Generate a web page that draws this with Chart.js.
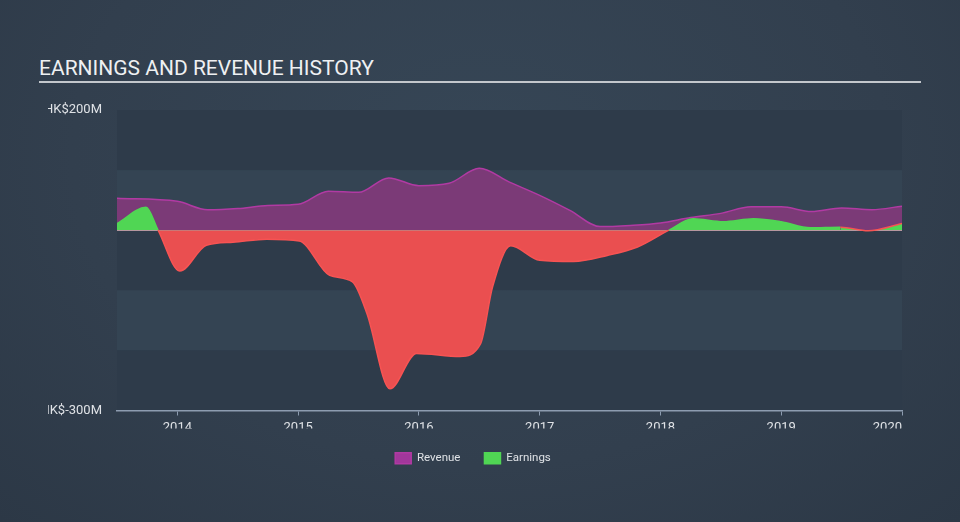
<!DOCTYPE html>
<html>
<head>
<meta charset="utf-8">
<script src="https://cdn.jsdelivr.net/npm/chart.js@4/dist/chart.umd.min.js"></script>
<style>
  html, body { margin: 0; padding: 0; }
  body {
    width: 960px; height: 522px; overflow: hidden; position: relative;
    background: radial-gradient(ellipse at 50% 30%, #364656 0%, #323f4e 60%, #2c3846 100%);
    font-family: Roboto, "Noto Sans", sans-serif;
  }
  .chart-title {
    position: absolute; left: 39px; top: 56px; width: 882px;
    margin: 0; padding: 0 0 1px 0;
    font-size: 21px; line-height: 24px; font-weight: 400; color: #eef0f2;
    border-bottom: 2px solid #c3c7cc;
  }
  .chart-wrap { position: absolute; left: 0; top: 0; width: 960px; height: 522px; }
</style>
</head>
<body>
<h1 class="chart-title">EARNINGS AND REVENUE HISTORY</h1>
<div class="chart-wrap"><canvas id="chart" width="960" height="522"></canvas></div>
<script>
// values in HK$ millions, x as decimal years
const revenueYears = [2013.5, 2014.0, 2014.25, 2014.5, 2014.75, 2015.0, 2015.25, 2015.5, 2015.75, 2016.0, 2016.25, 2016.5, 2016.75, 2017.0, 2017.25, 2017.5, 2017.75, 2018.0, 2018.25, 2018.5, 2018.75, 2019.0, 2019.25, 2019.5, 2019.75, 2020.0];
const revenueValues = [53, 48, 34, 36, 41, 43, 65, 63, 87, 74, 78, 103, 80, 58, 33, 6, 8, 12, 21, 28, 39, 39, 31, 37, 34, 40];

const earningsYears = [2013.5, 2013.74, 2013.84, 2014.02, 2014.24, 2014.46, 2014.74, 2015.01, 2015.26, 2015.45, 2015.57, 2015.76, 2015.98, 2016.34, 2016.51, 2016.61, 2016.76, 2017.0, 2017.28, 2017.56, 2017.81, 2018.07, 2018.27, 2018.52, 2018.77, 2019.0, 2019.24, 2019.49, 2019.72, 2020.0];
const earningsValues = [11, 38, 0, -68, -25, -20, -15, -18, -75, -86, -139, -264, -205, -210, -189, -94, -26, -50, -52, -42, -28, 0, 19, 14, 19, 14, 4, 5, -1, 11];

const yearTicks = [2014, 2015, 2016, 2017, 2018, 2019, 2020];
const valueTicks = [200, -300];
const bandEdges = [200, 100, 0, -100, -200, -300];

const toPoints = (xs, ys) => xs.map((x, i) => ({ x, y: ys[i] }));

const RED = "#ea4f50";
const GREEN = "#50d654";

const backdrop = {
  id: "backdrop",
  beforeDraw(chart) {
    const { ctx, chartArea, scales } = chart;
    ctx.save();
    for (let i = 0; i < bandEdges.length - 1; i++) {
      const top = scales.y.getPixelForValue(bandEdges[i]);
      const bottom = scales.y.getPixelForValue(bandEdges[i + 1]);
      ctx.fillStyle = i % 2 === 0 ? "#2e3b4a" : "#344453";
      ctx.fillRect(chartArea.left, top, chartArea.right - chartArea.left, bottom - top);
    }
    ctx.restore();
  },
  beforeDatasetsDraw(chart) {
    const { ctx, chartArea, scales } = chart;
    const zero = scales.y.getPixelForValue(0);
    ctx.save();
    ctx.strokeStyle = "#c5cad0";
    ctx.lineWidth = 1.5;
    ctx.beginPath();
    ctx.moveTo(chartArea.left, zero);
    ctx.lineTo(chartArea.right, zero);
    ctx.stroke();
    ctx.restore();
  },
  afterLayout(chart) {
    // y labels are cut off on the left, like the reference
    const y = chart.scales.y;
    if (!y._clipPatched) {
      const orig = y.drawLabels.bind(y);
      y.drawLabels = (area) => {
        const ctx = chart.ctx;
        ctx.save();
        ctx.beginPath();
        ctx.rect(48, 0, chart.width, chart.height);
        ctx.clip();
        orig(area);
        ctx.restore();
      };
      y._clipPatched = true;
    }
    // last year label sits left of its tick
    const x = chart.scales.x;
    if (!x._alignPatched) {
      const origItems = x._computeLabelItems.bind(x);
      x._computeLabelItems = (area) => {
        const items = origItems(area);
        if (items.length) items[items.length - 1].options.textAlign = "right";
        return items;
      };
      x._alignPatched = true;
    }
  },
};

const ctx = document.getElementById("chart").getContext("2d");

new Chart(ctx, {
  type: "line",
  data: {
    datasets: [
      {
        label: "Revenue",
        data: toPoints(revenueYears, revenueValues),
        order: 1,
        borderColor: "#b13aa3",
        backgroundColor: "#a2379b",
        borderWidth: 1.5,
        pointRadius: 0,
        cubicInterpolationMode: "monotone",
        fill: { target: "origin", above: "#7b3a77", below: "#7b3a77" },
      },
      {
        label: "Earnings",
        data: toPoints(earningsYears, earningsValues),
        order: 0,
        borderColor: GREEN,
        backgroundColor: GREEN,
        borderWidth: 1.5,
        pointRadius: 0,
        cubicInterpolationMode: "monotone",
        segment: {
          borderColor: (c) => (c.p0.parsed.y < 0 || c.p1.parsed.y < 0 ? "#f75353" : GREEN),
        },
        fill: { target: { value: 0 }, above: GREEN, below: RED },
      },
    ],
  },
  options: {
    responsive: false,
    animation: false,
    layout: {
      padding: { left: 44, right: 58, top: 110, bottom: 48 },
    },
    plugins: {
      legend: {
        position: "bottom",
        labels: {
          boxWidth: 16,
          boxHeight: 11,
          padding: 24,
          color: "#dfe2e6",
          font: { family: "Roboto", size: 11.5 },
          sort: (a, b) => a.datasetIndex - b.datasetIndex,
        },
      },
      tooltip: { enabled: false },
    },
    scales: {
      x: {
        type: "linear",
        min: 2013.5,
        max: 2020.0,
        afterBuildTicks: (s) => {
          s.ticks = yearTicks.map((v) => ({ value: v }));
        },
        afterFit: (s) => {
          s.height = 18;
        },
        grid: {
          drawOnChartArea: false,
          drawTicks: true,
          tickLength: 5,
          color: "#8d9cb0",
        },
        border: { display: true, color: "#8d9cb0", width: 1.5 },
        ticks: {
          padding: 4,
          maxRotation: 0,
          color: "#dfe2e6",
          font: { family: "Roboto", size: 13 },
          callback: (v) => String(v),
        },
      },
      y: {
        min: -300,
        max: 200,
        afterBuildTicks: (s) => {
          s.ticks = valueTicks.map((v) => ({ value: v }));
        },
        afterFit: (s) => {
          s.width = 73;
        },
        grid: { display: false, drawTicks: false },
        border: { display: false },
        ticks: {
          padding: 15,
          color: "#dfe2e6",
          font: { family: "Roboto", size: 13 },
          callback: (v) => "HK$" + v + "M",
        },
      },
    },
  },
  plugins: [backdrop],
});
</script>
</body>
</html>
